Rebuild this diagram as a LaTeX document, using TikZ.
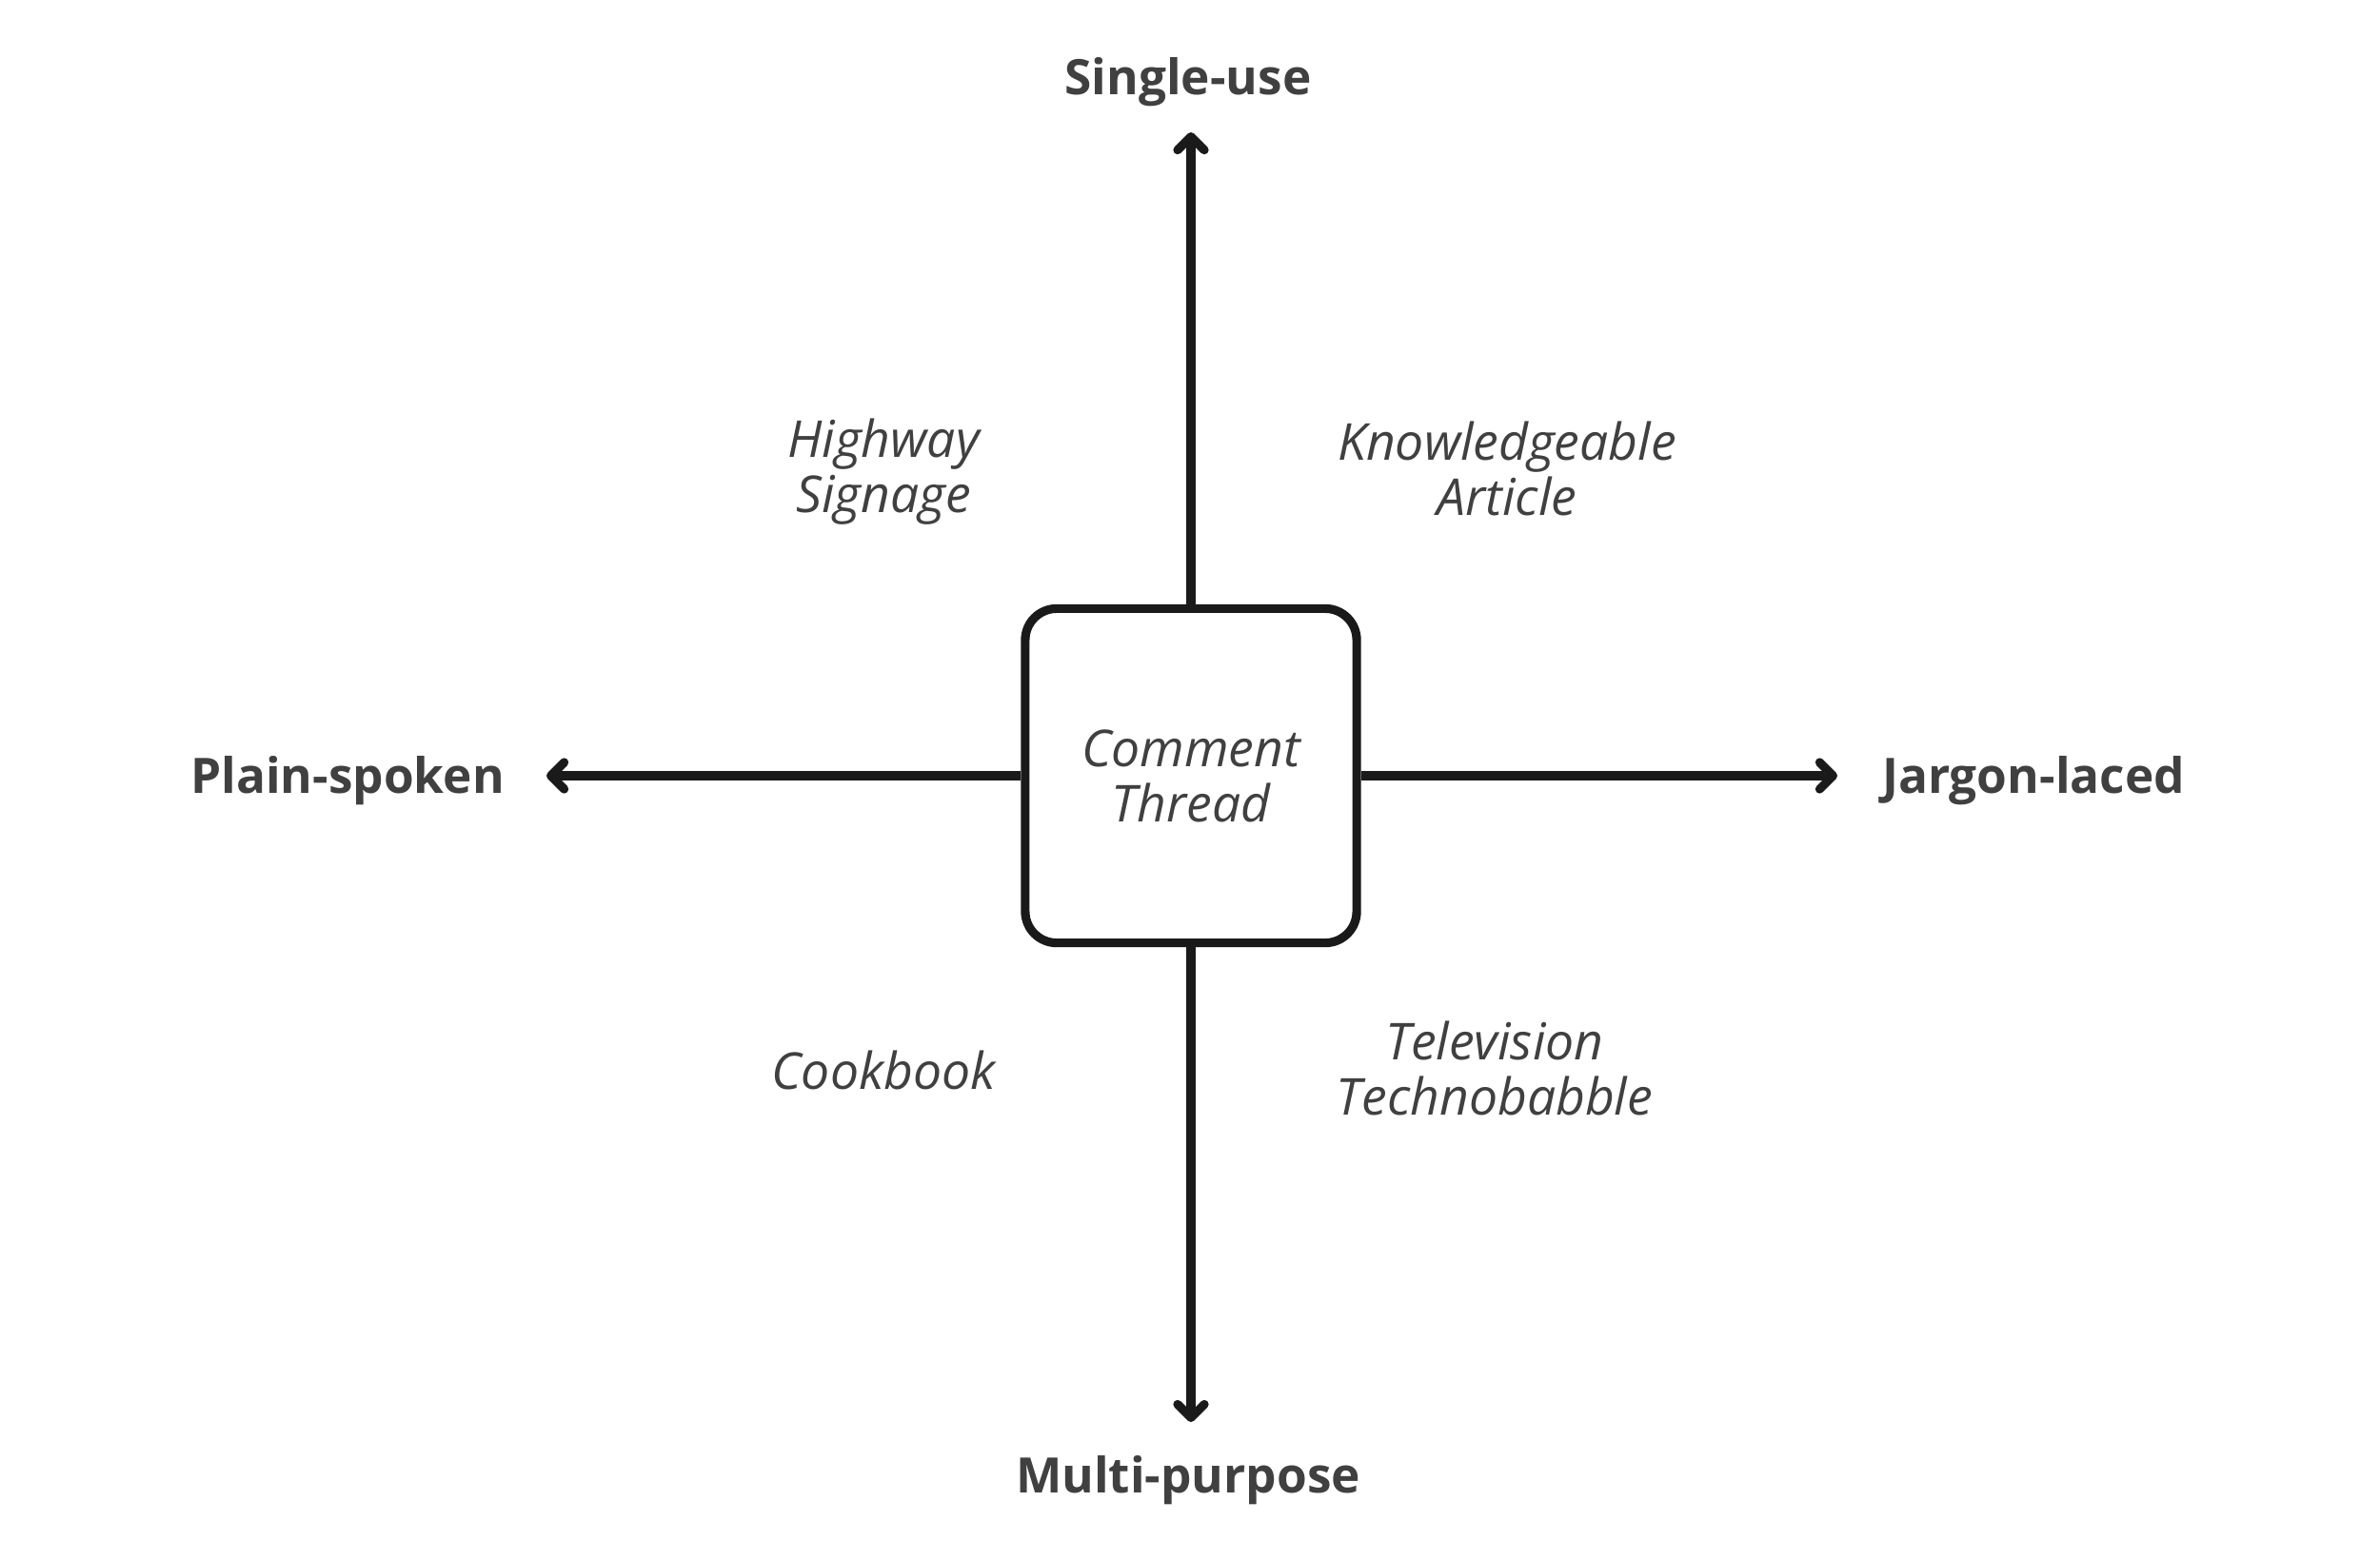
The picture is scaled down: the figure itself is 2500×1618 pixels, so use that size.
\documentclass[tikz,border=0pt]{standalone}
\usepackage{fontspec}
\setmainfont{Open Sans}
\usetikzlibrary{arrows.meta}
\definecolor{ink}{HTML}{1A1A1A}
\definecolor{txt}{HTML}{404040}

\begin{document}
\begin{tikzpicture}[x=0.01cm, y=-0.01cm,
  every node/.style={text=txt, align=center},
  axis/.style={draw=ink, line width=2.6pt, -{Straight Barb[length=4pt,width=8pt,round]}},
  pole/.style={font=\fontsize{14.6}{17}\selectfont\bfseries},
  example/.style={font=\fontsize{15.2}{16.5}\selectfont\itshape}]
  \useasboundingbox (0,0) rectangle (2500,1618);

  % Axis end points
  \coordinate (top) at (1251,139);    % Single-use
  \coordinate (bottom) at (1251,1494); % Multi-purpose
  \coordinate (left) at (574,815);    % Plain-spoken
  \coordinate (right) at (1930,815);  % Jargon-laced

  % Center box
  \node[example, draw=ink, line width=2.6pt, rounded corners=0.33cm,
        minimum width=3.48cm, minimum height=3.51cm] (thread) at (1251,815) {Comment\\Thread};

  % Axes
  \draw[axis] (thread.north) -- (top);
  \draw[axis] (thread.south) -- (bottom);
  \draw[axis] (thread.west) -- (left);
  \draw[axis] (thread.east) -- (right);

  % Axis labels
  \node[pole] (single) at (1248,86) {Single-use};
  \node[pole] (multi) at (1248,1555) {Multi-purpose};
  \node[pole] (plain) at (365,820) {Plain-spoken};
  \node[pole] (jargon) at (2136,820) {Jargon-laced};

  % Quadrant examples
  \node[example] (highway) at (928,496) {Highway\\Signage};
  \node[example] (article) at (1583,492) {Knowledgeable\\Article};
  \node[example] (cookbook) at (928,1124) {Cookbook};
  \node[example] (television) at (1570,1122) {Television\\Technobabble};

\end{tikzpicture}
\end{document}
